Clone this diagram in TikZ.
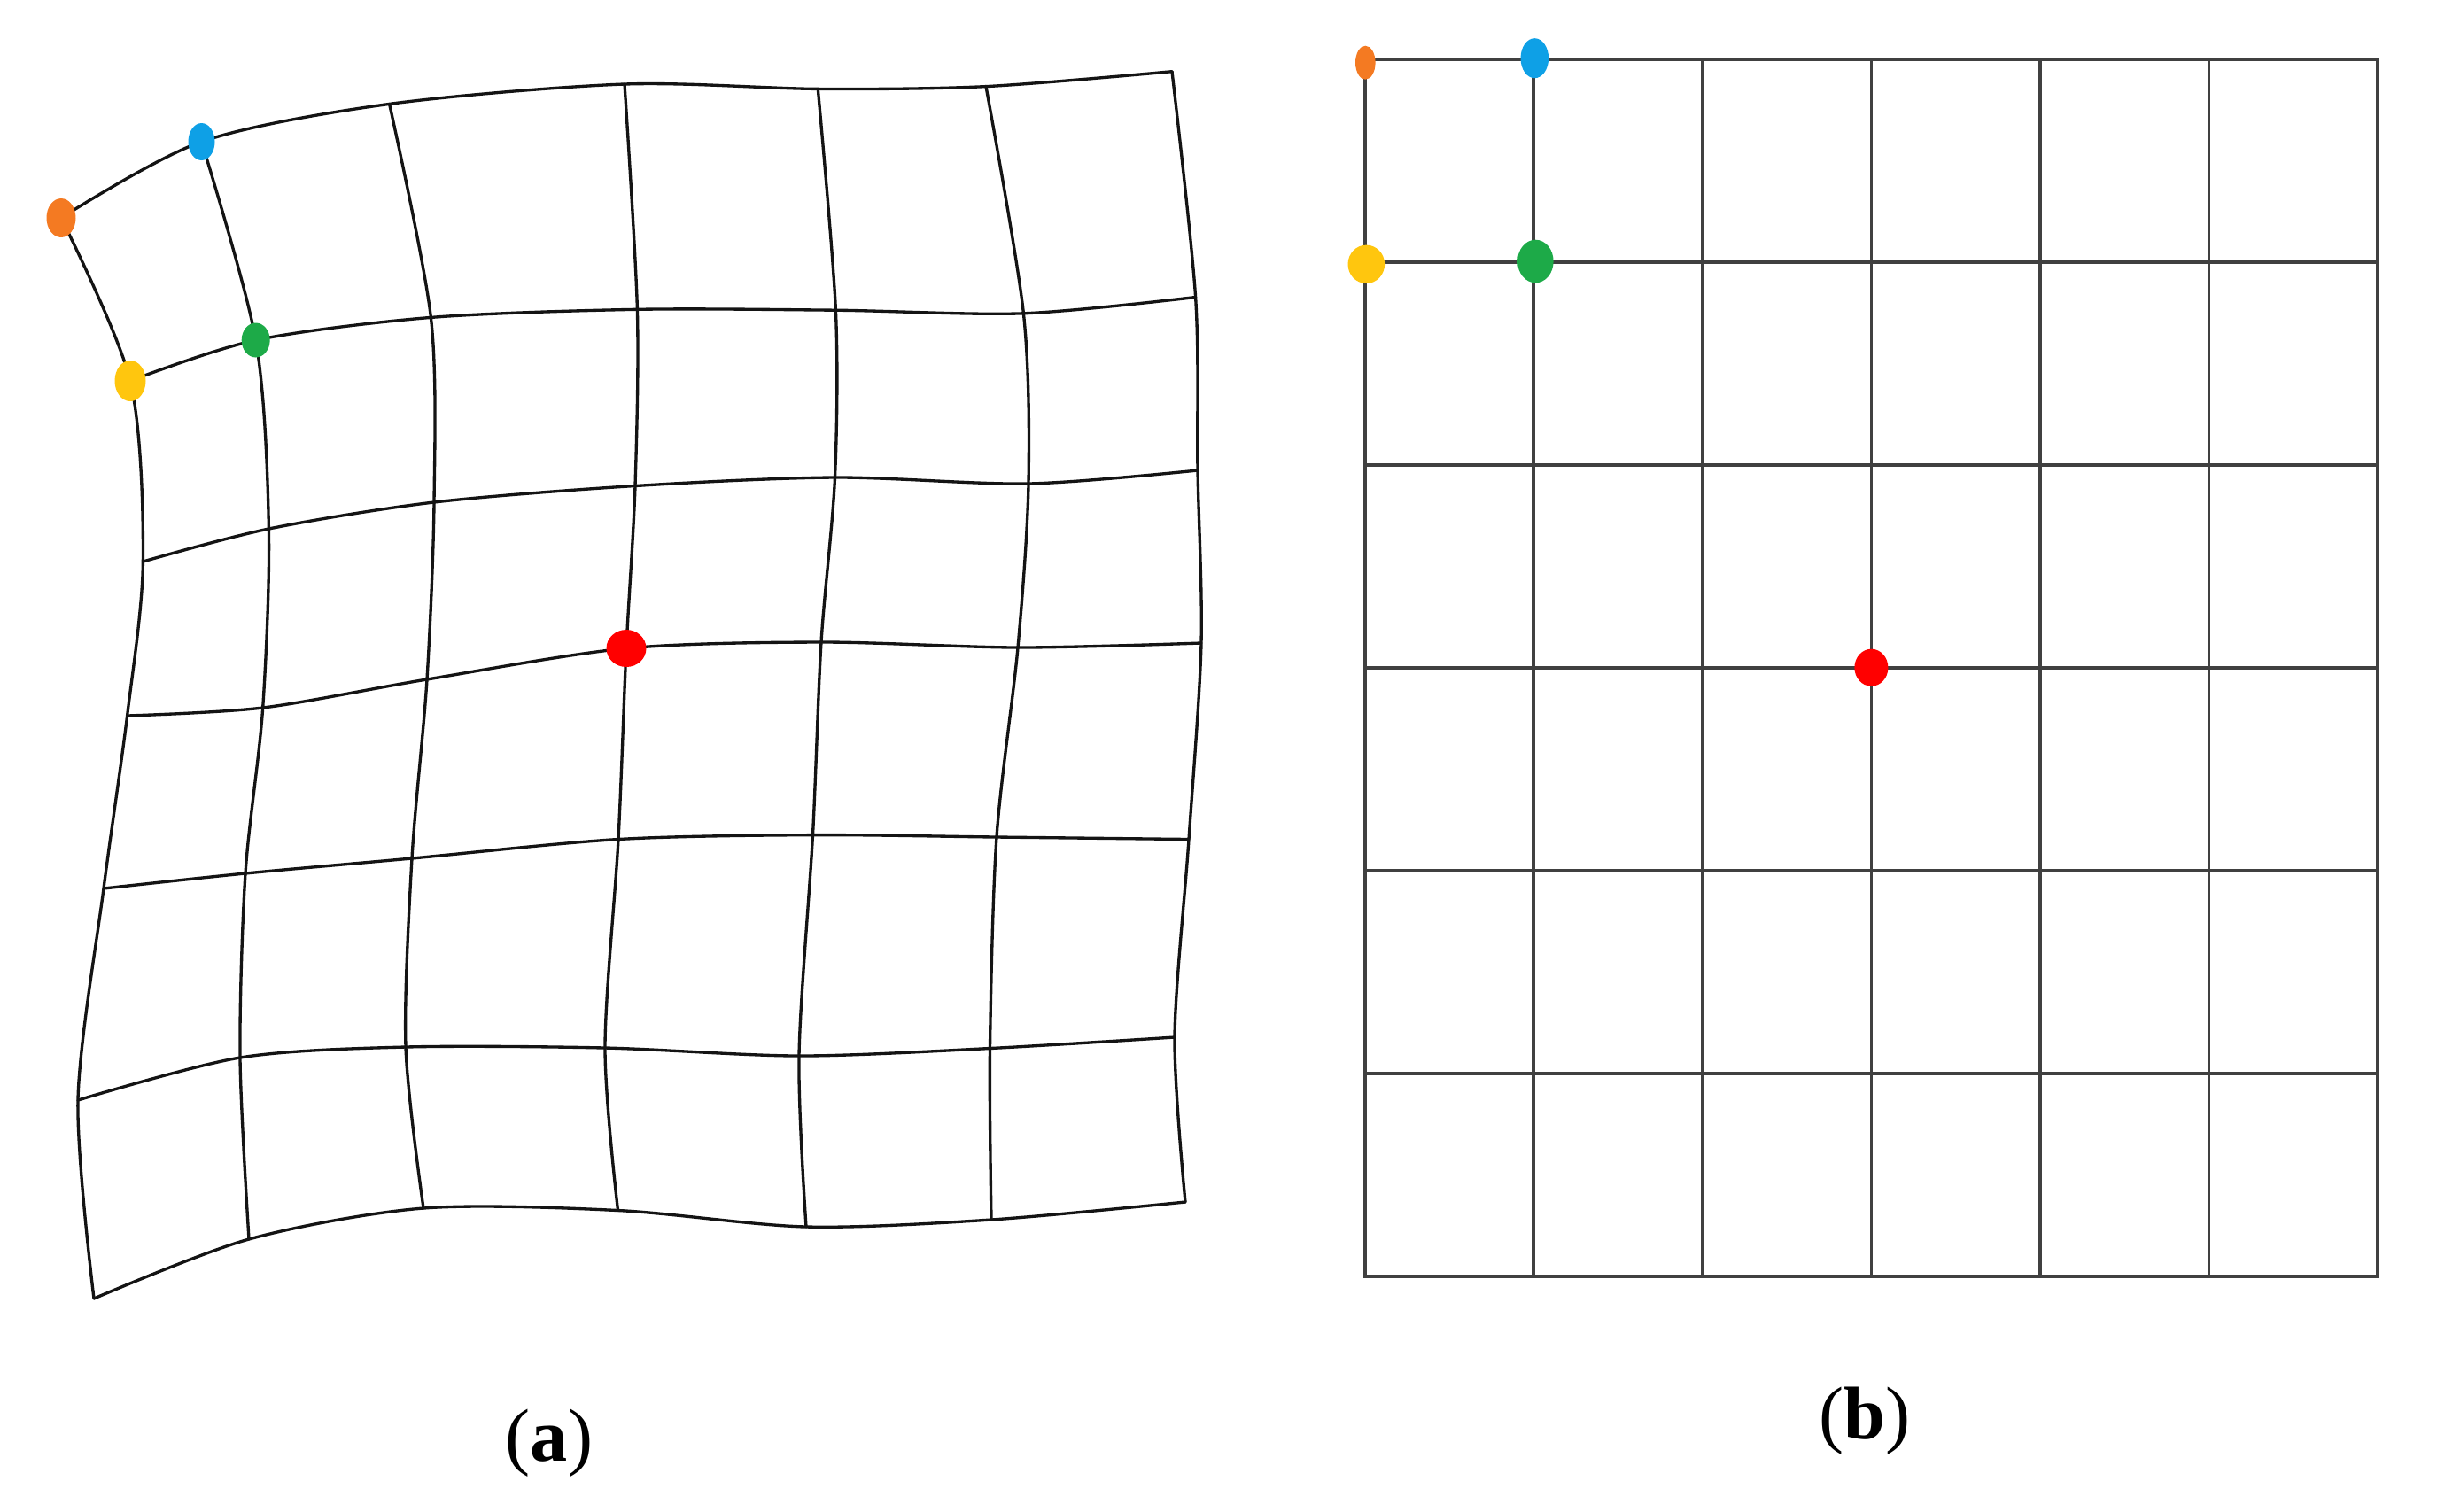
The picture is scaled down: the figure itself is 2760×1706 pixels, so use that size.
\documentclass[tikz,border=0pt]{standalone}
\usepackage{fontspec}
\setmainfont{Liberation Serif}
\definecolor{dotorange}{HTML}{F47A22}
\definecolor{dotblue}{HTML}{0EA0E6}
\definecolor{dotgreen}{HTML}{1DAA48}
\definecolor{dotyellow}{HTML}{FFC60E}
\definecolor{dotred}{HTML}{FF0000}
\begin{document}
\begin{tikzpicture}[x=0.1mm,y=-0.1mm,
  gridA/.style={line width=0.95pt, black!92, line join=round, line cap=round},
  gridB/.style={line width=1.05pt, black!75},
  lbl/.style={font=\fontsize{24}{28}\selectfont, inner sep=0pt}]
\useasboundingbox (0,0) rectangle (2760,1706);
% ---------------- panel (a): distorted grid ----------------
% rows
\draw[gridA] plot[smooth] coordinates {(69,246) (227.5,160) (439.6,117.4) (705,95) (923.3,100.4) (1113,97.6) (1323,80.7)};
\draw[gridA] plot[smooth] coordinates {(147,430) (288.7,384) (486.4,358.4) (719.4,349.3) (943.4,350.2) (1155.4,353.8) (1349.6,335.5)};
\draw[gridA] plot[smooth] coordinates {(161.4,634) (303.4,597) (490,567) (717,548.5) (942.5,539) (1161,546) (1352,531)};
\draw[gridA] plot[smooth] coordinates {(143.6,808) (296.7,799) (482,767) (707,732) (927,725) (1149,731) (1356,726)};
\draw[gridA] plot[smooth] coordinates {(117,1003) (277,986) (465,969) (698,947.5) (917.5,942.6) (1125,945) (1342,947.5)};
\draw[gridA] plot[smooth] coordinates {(88,1242) (271,1194) (458,1182) (683,1183) (902,1192) (1117.5,1183.5) (1326,1171)};
\draw[gridA] plot[smooth] coordinates {(106,1466) (281,1399) (478,1364) (697.5,1366.5) (910,1385) (1119,1377) (1338,1357)};
% columns
\draw[gridA] plot[smooth] coordinates {(69,246) (147,430) (161.4,634) (143.6,808) (117,1003) (88,1242) (106,1466)};
\draw[gridA] plot[smooth] coordinates {(227.5,160) (288.7,384) (303.4,597) (296.7,799) (277,986) (271,1194) (281,1399)};
\draw[gridA] plot[smooth] coordinates {(439.6,117.4) (486.4,358.4) (490,567) (482,767) (465,969) (458,1182) (478,1364)};
\draw[gridA] plot[smooth] coordinates {(705,95) (719.4,349.3) (717,548.5) (707,732) (698,947.5) (683,1183) (697.5,1366.5)};
\draw[gridA] plot[smooth] coordinates {(923.3,100.4) (943.4,350.2) (942.5,539) (927,725) (917.5,942.6) (902,1192) (910,1385)};
\draw[gridA] plot[smooth] coordinates {(1113,97.6) (1155.4,353.8) (1161,546) (1149,731) (1125,945) (1117.5,1183.5) (1119,1377)};
\draw[gridA] plot[smooth] coordinates {(1323,80.7) (1349.6,335.5) (1352,531) (1356,726) (1342,947.5) (1326,1171) (1338,1357)};
% coloured points
\fill[dotorange] (69,246) ellipse [x radius=16.5, y radius=22];
\fill[dotblue] (227.5,160) ellipse [x radius=15, y radius=21];
\fill[dotyellow] (147,430) ellipse [x radius=17.5, y radius=23];
\fill[dotgreen] (288.7,384) ellipse [x radius=16, y radius=19.5];
\fill[dotred] (707,732) ellipse [x radius=22.5, y radius=21];
% ---------------- panel (b): regular grid ----------------
\foreach \i in {1,...,5} {
  \draw[gridB] ({1540.7+\i*190.55},66.7) -- ({1540.7+\i*190.55},1440.7);
  \draw[gridB] (1540.7,{66.7+\i*229}) -- (2684,{66.7+\i*229});
}
\draw[gridB] (1540.7,66.7) rectangle (2684,1440.7);
\fill[dotorange] (1541.3,70.7) ellipse [x radius=11.3, y radius=19];
\fill[dotblue] (1732.3,65.7) ellipse [x radius=15.8, y radius=22.5];
\fill[dotyellow] (1542.3,298.3) ellipse [x radius=20.8, y radius=21.7];
\fill[dotgreen] (1733.3,295) ellipse [x radius=20.3, y radius=24.3];
\fill[dotred] (2112.4,753.7) ellipse [x radius=19, y radius=21];
% ---------------- labels ----------------
\node[lbl] (la) at (620,1629) {(\textbf{a})};
\node[lbl] (lb) at (2105,1604) {(\textbf{b})};
\end{tikzpicture}
\end{document}
